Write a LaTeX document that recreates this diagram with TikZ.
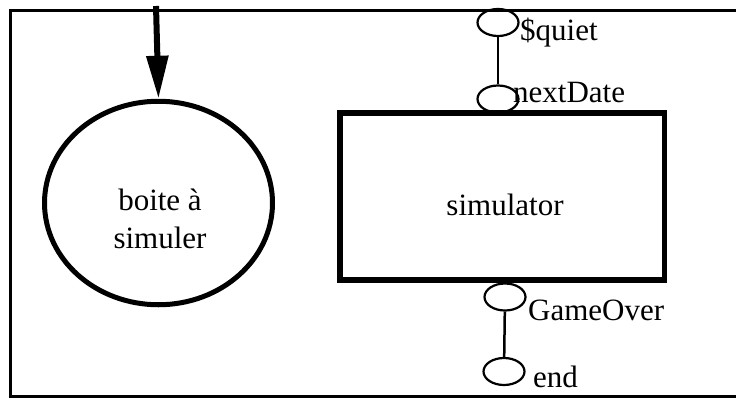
\documentclass[tikz,border=0pt]{standalone}
\usepackage{fontspec}
\setmainfont{Liberation Serif}
\usetikzlibrary{shapes.geometric,arrows.meta}
\begin{document}
\begin{tikzpicture}[x=1pt,y=-1pt,
  lbl/.style={inner sep=0pt, font=\fontsize{31}{38}\selectfont},
  port/.style={draw, ellipse, line width=2.2pt, inner sep=0pt, minimum width=41pt, minimum height=27pt},
  wire/.style={line width=2.5pt}]
\useasboundingbox (0,0) rectangle (736,399);
% frame
\draw[line width=3pt] (736,10.5) -- (10.5,10.5) -- (10.5,396.5) -- (736,396.5);
% box to simulate
\node[draw, ellipse, line width=5pt, minimum width=228pt, minimum height=203.5pt, inner sep=0pt] (boite) at (158.5,203) {};
\node[lbl, align=center, anchor=base] (boitetxt) at (160,248) {boite à\\simuler};
\coordinate (astart) at (156,6);
\draw[line width=6pt, -{Triangle[length=43pt,width=21pt]}] (astart) -- (boite.north);
% simulator
\node[draw, line width=5.5pt, minimum width=324.5pt, minimum height=167pt, inner sep=0pt] (sim) at (502.25,196.5) {};
\node[lbl, anchor=base] (simtxt) at (505,215) {simulator};
% ports
\node[port] (quiet) at (498,22.5) {};
\node[port] (next) at (498,99) {};
\node[port] (over) at (505,297) {};
\node[port] (fin) at (504,371.5) {};
\draw[wire] (quiet) -- (next);
\draw[wire] (over) -- (fin);
\node[lbl, anchor=base west] (quiettxt) at (520,40) {\$quiet};
\node[lbl, anchor=base west] (nexttxt) at (513,102) {nextDate};
\node[lbl, anchor=base west] (overtxt) at (528,320) {GameOver};
\node[lbl, anchor=base west] (fintxt) at (533,387) {end};
\end{tikzpicture}
\end{document}
